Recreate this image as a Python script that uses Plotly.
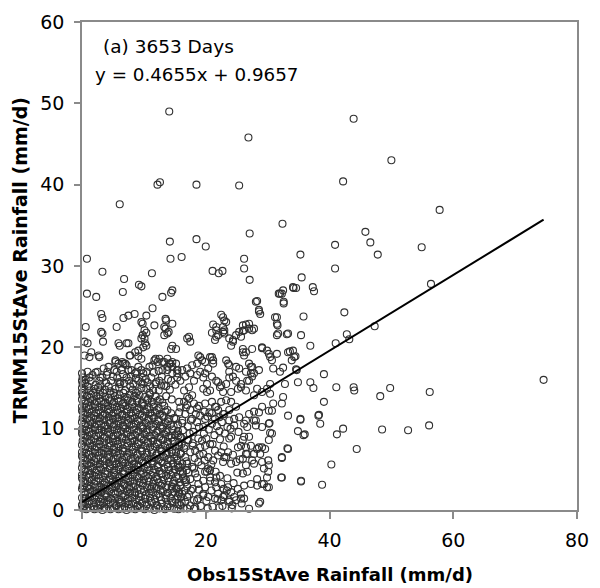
import plotly.graph_objects as go

# Daily 15-station average rainfall, observed gauge vs TRMM (mm/d)
# Sparse high-intensity days
outlier_days = [
    (14.1, 49.0), (26.9, 45.8), (43.9, 48.1), (50.0, 43.0), (12.2, 40.0), (12.6, 40.3),
    (18.5, 40.0), (25.4, 39.9), (42.2, 40.4), (6.1, 37.6), (57.8, 36.9), (32.4, 35.2),
    (27.1, 34.0), (45.8, 34.2), (46.6, 32.9), (14.2, 33.0), (18.5, 33.3), (20.0, 32.4),
    (40.9, 32.6), (54.9, 32.3), (47.8, 31.4), (35.3, 31.4), (0.8, 30.9), (14.3, 30.9),
    (16.1, 31.1), (26.2, 30.9), (26.2, 29.7), (40.9, 29.7), (27.1, 28.3), (35.5, 28.6),
    (3.3, 29.3), (6.8, 28.4), (9.2, 27.7), (9.6, 27.5), (11.3, 29.1), (21.1, 29.4),
    (22.1, 29.1), (22.7, 29.4), (34.6, 27.3), (37.3, 27.4), (37.5, 26.9), (56.4, 27.8),
    (0.8, 26.6), (2.3, 26.2), (6.6, 26.8), (13.0, 26.2), (14.6, 27.0), (14.4, 26.7),
    (32.0, 26.6), (34.2, 27.3), (31.8, 26.6), (32.5, 27.0), (32.6, 25.6), (32.6, 25.4),
    (74.6, 16.0),
]

# Heavy observed rainfall (obs > 29 mm/d)
wet_obs_days = [
    (42.4, 24.3), (35.8, 23.8), (47.3, 22.6), (42.8, 21.6), (43.2, 21.0), (35.4, 21.5),
    (36.9, 20.2), (41.0, 20.5), (34.5, 18.9), (34.6, 17.3), (39.1, 16.7), (34.9, 15.7),
    (36.9, 15.7), (37.4, 15.0), (41.1, 15.1), (43.9, 15.1), (44.0, 14.7), (48.2, 14.0),
    (49.8, 15.0), (56.2, 14.5), (39.1, 13.3), (38.3, 11.7), (38.5, 10.6), (35.3, 11.1),
    (34.9, 9.7), (36.0, 9.3), (41.2, 9.3), (42.2, 10.0), (48.5, 9.9), (52.7, 9.8),
    (56.1, 10.4), (44.4, 7.5), (40.3, 5.6), (35.4, 3.6), (38.8, 3.1),
    (31.5, 23.7), (31.6, 22.7), (31.5, 21.5), (33.1, 21.6), (31.5, 19.2), (33.6, 19.5),
    (34.3, 18.8), (30.4, 18.8), (30.7, 18.4), (30.9, 17.4), (32.0, 17.0), (32.5, 17.5),
    (34.7, 17.2), (30.4, 15.5), (29.9, 14.9), (32.8, 15.5), (30.4, 14.3), (32.5, 13.9),
    (32.3, 13.1), (30.9, 13.1), (30.2, 12.2), (30.7, 12.2), (33.3, 11.6), (35.3, 11.2),
    (38.2, 11.6), (30.3, 10.7), (30.4, 9.5), (30.2, 8.6), (35.8, 9.2), (33.2, 7.6),
    (32.3, 6.4), (30.1, 6.1), (30.1, 4.7), (29.9, 4.0), (32.2, 4.0), (35.4, 3.5),
    (29.9, 2.8),
]

# Days with TRMM between about 17 and 26 mm/d
upper_band_days = [
    (28.3, 25.7), (28.6, 24.4), (22.5, 24.0), (23.0, 23.3), (21.2, 22.8), (21.7, 22.1),
    (22.8, 21.9), (26.5, 22.8), (27.0, 22.3), (27.5, 22.1), (26.0, 22.0), (11.4, 24.8),
    (3.1, 24.1), (3.3, 23.6), (6.7, 23.6), (7.5, 23.9), (8.5, 24.1), (10.4, 23.9),
    (13.5, 23.5), (14.6, 22.9), (0.6, 22.5), (3.1, 21.9), (5.6, 22.5), (9.8, 22.9),
    (10.1, 22.1), (10.4, 21.8), (13.5, 22.3), (14.0, 21.9), (9.6, 23.1), (11.7, 22.7),
    (13.3, 22.5), (13.6, 23.3), (0.4, 20.7), (0.9, 20.5), (1.5, 19.4), (1.2, 18.8),
    (0.4, 19.0), (2.8, 18.8), (3.4, 20.7), (5.9, 20.5), (7.2, 20.5), (5.4, 18.4),
    (6.5, 18.2), (7.0, 18.0), (7.8, 19.0), (8.6, 19.4), (9.1, 19.6), (9.6, 21.1),
    (10.2, 20.5), (9.9, 20.0), (14.4, 19.8), (11.7, 18.4), (12.5, 18.6), (13.3, 18.2),
    (14.1, 18.0), (14.6, 17.6), (15.4, 17.2), (17.0, 21.1), (17.5, 20.7), (18.8, 19.0),
    (19.4, 18.4), (20.7, 18.8), (21.2, 18.4), (21.7, 22.5), (22.0, 21.5), (21.5, 20.9),
    (22.8, 23.7), (23.3, 23.1), (22.8, 22.5), (23.0, 22.1), (23.8, 21.1), (24.4, 20.7),
    (24.9, 21.5), (25.4, 21.9), (26.2, 22.1), (26.0, 22.7), (27.0, 22.9), (27.8, 22.3),
    (23.3, 18.4), (23.8, 17.8), (24.9, 17.6), (25.4, 17.4), (26.5, 17.0), (26.0, 19.4),
    (26.2, 19.0), (27.5, 19.8), (27.5, 17.6), (27.8, 16.8), (28.6, 17.2), (28.1, 25.6),
    (28.6, 24.6), (28.8, 24.1), (29.1, 20.0), (29.9, 19.6), (30.2, 19.2), (31.2, 23.7),
    (31.5, 22.9), (31.7, 21.7), (33.3, 21.7), (32.3, 26.6), (34.1, 27.4), (33.3, 19.4),
    (33.9, 18.4), (34.1, 19.6), (3.3, 21.7), (6.1, 20.2), (7.5, 20.5), (2.7, 19.0),
    (7.7, 19.0), (9.1, 18.9), (9.6, 18.6), (10.1, 21.1), (10.4, 20.2), (9.8, 21.5),
    (13.3, 21.5), (13.8, 21.7), (11.9, 18.6), (13.0, 18.2), (13.8, 18.6), (14.6, 18.2),
    (5.4, 18.2), (5.9, 18.0), (6.7, 18.0), (7.2, 17.8), (17.3, 21.3), (21.0, 21.8),
    (21.7, 21.3), (23.0, 21.7), (24.4, 20.9), (25.7, 21.3), (24.1, 20.2), (26.0, 19.8),
    (26.5, 19.4), (29.1, 19.9), (14.6, 20.2), (15.2, 19.8), (19.1, 18.8), (21.0, 18.8),
    (19.9, 18.2), (18.6, 18.0), (17.8, 17.8), (21.2, 18.0), (23.6, 18.0), (27.3, 17.6),
    (27.0, 18.0),
]

# Days with TRMM between about 14 and 18 mm/d
middle_band_days = [
    (0.1, 16.3), (0.1, 15.5), (0.6, 16.0), (2.8, 15.9), (3.3, 16.3), (4.1, 17.0),
    (5.2, 17.2), (5.7, 16.3), (6.2, 15.7), (8.0, 17.2), (8.6, 16.8), (9.1, 17.6),
    (9.9, 16.8), (9.6, 15.7), (11.2, 16.3), (12.0, 15.7), (12.8, 15.3), (13.8, 17.2),
    (14.6, 16.8), (14.4, 15.9), (15.4, 16.3), (15.4, 17.2), (16.5, 14.7), (17.3, 15.1),
    (18.1, 15.9), (18.6, 16.6), (19.1, 17.0), (19.6, 16.3), (20.2, 15.5), (20.7, 14.7),
    (21.7, 15.9), (22.3, 15.1), (22.8, 14.5), (23.3, 15.5), (23.8, 16.3), (24.9, 15.9),
    (25.7, 15.1), (26.5, 14.7), (27.0, 15.9), (27.3, 16.8), (5.6, 17.0), (6.4, 17.2),
    (7.5, 17.2), (7.2, 16.3), (6.1, 15.5), (0.0, 16.8), (0.9, 17.0), (1.7, 16.6),
    (2.5, 17.0), (3.0, 16.3), (3.5, 17.4), (4.3, 17.6), (4.0, 16.6), (8.8, 17.0),
    (9.6, 17.2), (9.8, 16.3), (10.9, 17.6), (11.4, 17.8), (12.2, 18.2), (9.1, 15.9),
    (9.8, 15.5), (10.6, 15.7), (11.9, 15.5), (12.5, 15.9), (13.3, 15.3), (13.0, 17.2),
    (13.8, 17.6), (14.3, 18.0), (5.9, 15.7), (15.2, 18.0), (15.4, 16.8), (16.7, 16.4),
    (17.5, 16.8), (17.0, 17.4), (16.2, 17.2), (19.9, 16.8), (20.4, 17.4), (21.0, 16.4),
    (19.6, 14.9), (20.2, 14.5), (17.0, 13.9), (17.8, 14.1), (22.0, 15.7), (22.5, 15.3),
    (23.8, 17.0), (24.4, 16.4), (24.1, 14.5), (25.2, 14.9), (25.7, 15.5), (26.7, 15.9),
    (27.5, 16.4), (28.3, 14.9), (29.1, 14.5), (27.8, 14.1),
    (0.5, 15.6), (1.4, 15.9), (2.2, 15.4), (3.0, 15.3), (3.9, 15.6), (4.7, 15.9),
    (5.0, 16.4), (6.8, 15.6), (7.6, 15.9), (8.3, 15.5), (8.7, 16.2), (10.3, 16.1),
    (11.0, 15.2), (11.6, 16.9), (12.9, 16.4), (13.9, 16.1), (1.2, 16.3), (2.2, 16.9),
    (6.6, 16.7), (7.9, 16.4), (10.4, 17.0), (12.4, 17.1), (13.6, 15.2), (14.2, 14.8),
    (15.1, 15.4), (15.9, 15.9),
]

# Moderate days, observed 15-33 mm/d
moderate_days = [
    (15.7, 13.3), (16.5, 13.3), (17.3, 13.7), (18.1, 13.1), (18.6, 12.5), (17.5, 12.3),
    (16.7, 11.8), (15.7, 12.0), (15.2, 11.2), (16.2, 11.0), (17.8, 11.2), (19.1, 11.6),
    (19.9, 13.1), (21.0, 13.3), (21.5, 12.7), (22.0, 12.3), (22.5, 13.3), (23.3, 13.5),
    (24.1, 13.3), (23.8, 12.3), (23.0, 11.8), (21.5, 11.2), (19.9, 11.2), (27.8, 12.1),
    (28.1, 11.0), (26.5, 11.0), (24.6, 11.2), (21.7, 12.7), (22.8, 11.8), (23.8, 11.0),
    (24.9, 12.7), (25.4, 11.4), (26.2, 10.6), (27.0, 11.8), (27.8, 11.0), (28.6, 12.0),
    (29.1, 12.7), (30.2, 10.6), (30.7, 9.4), (29.6, 7.5), (28.6, 7.7), (29.1, 5.9),
    (30.2, 5.5), (27.0, 9.0), (26.0, 8.6), (25.2, 7.7), (24.1, 9.0), (23.3, 6.5),
    (22.8, 5.9), (24.9, 5.9), (26.5, 6.9), (27.5, 6.1), (32.3, 6.5), (33.3, 7.5),
    (32.3, 4.0), (26.7, 10.2), (28.1, 10.4), (29.1, 10.2), (26.2, 9.0), (24.6, 10.4),
    (23.8, 8.8), (25.7, 7.9), (26.5, 7.7), (27.3, 7.9), (28.3, 7.5), (29.1, 7.7),
    (28.8, 6.9), (27.8, 6.9), (26.7, 6.9), (26.0, 6.3), (24.1, 5.7), (26.5, 5.5),
    (27.8, 5.7), (29.4, 5.1), (26.7, 4.7), (26.0, 4.5), (28.3, 3.8), (27.3, 3.2),
    (26.2, 3.0), (28.3, 3.0), (29.4, 3.2), (28.8, 1.0), (27.0, 0.15), (25.7, 1.4),
    (24.6, 1.6), (24.1, 2.2), (23.6, 2.8), (22.5, 3.2), (21.5, 3.4), (20.7, 4.0),
    (19.9, 4.7), (20.4, 5.1), (19.6, 3.6), (18.8, 3.2), (19.9, 2.8), (20.9, 2.4),
    (22.0, 2.0), (23.0, 1.8), (23.8, 1.2), (22.5, 1.2), (21.5, 1.4), (20.4, 1.6),
    (19.6, 1.8), (18.8, 1.4), (18.1, 1.2), (18.3, 0.3), (17.5, 0.55), (16.7, 1.0),
    (17.0, 1.6), (16.2, 2.0), (15.7, 2.2), (15.2, 2.6), (15.9, 3.0), (16.7, 3.4),
    (17.5, 3.8), (18.3, 4.5), (17.8, 5.3), (17.0, 5.7), (16.2, 5.7), (15.4, 6.1),
    (15.2, 7.1), (15.9, 6.9), (16.7, 6.5), (17.5, 7.1), (18.3, 7.3), (19.1, 7.7),
    (19.9, 7.9), (20.7, 8.1), (19.6, 6.9), (20.4, 6.5), (21.2, 6.1), (22.0, 6.7),
    (22.5, 7.1), (23.0, 6.5), (14.9, 0.15), (18.1, 0.15), (18.6, 1.2), (19.6, 2.0),
    (20.7, 3.6), (21.7, 2.8), (22.8, 1.6), (23.8, 1.0), (24.9, 1.2), (25.7, 2.0),
    (26.2, 1.4), (28.6, 0.8), (29.1, 3.2), (30.2, 2.8), (20.2, 4.7), (20.7, 4.9),
    (21.7, 4.0), (15.5, 10.5), (16.3, 9.8), (17.1, 10.3), (18.0, 9.6), (18.9, 10.2),
    (19.7, 9.4), (16.0, 8.9), (17.0, 8.6), (17.9, 8.2), (18.8, 8.8), (20.5, 9.9),
    (21.4, 9.2), (22.3, 8.7), (21.0, 10.6), (16.8, 12.6), (18.4, 11.8), (20.6, 12.0),
    (15.6, 9.2), (17.4, 9.4), (19.4, 8.5),
    (16.1, 0.9), (17.3, 1.9), (18.9, 2.5), (19.2, 0.5), (20.1, 1.1), (21.1, 0.4),
    (21.9, 1.3), (22.7, 0.5), (23.4, 2.4), (24.3, 0.6), (25.2, 2.6), (16.4, 3.9),
    (17.9, 2.6), (18.6, 4.0), (19.3, 5.5), (20.9, 5.6), (21.6, 4.7), (22.3, 4.2),
    (22.9, 2.6), (23.5, 3.9), (24.5, 3.3), (25.1, 4.6), (16.3, 4.7), (17.2, 4.6),
    (18.8, 5.9), (18.2, 6.4), (19.8, 6.1), (21.5, 7.3), (22.9, 7.8), (23.6, 7.1),
    (24.4, 6.8), (25.5, 6.2), (16.5, 7.6), (17.9, 7.9), (19.0, 6.8), (20.1, 8.8),
    (21.1, 8.1), (22.2, 9.7), (23.1, 9.4), (24.0, 10.0), (25.3, 9.6), (16.2, 10.7),
    (17.6, 11.0), (18.6, 10.8), (19.6, 10.2), (20.3, 11.5), (21.8, 10.3), (22.6, 10.8),
    (23.5, 10.2), (15.9, 12.6), (17.0, 12.9), (18.9, 12.8), (19.8, 12.1), (21.0, 11.9),
    (22.2, 11.4), (16.1, 8.1), (15.8, 5.3), (16.9, 6.0), (18.1, 5.1), (17.6, 2.4),
    (20.3, 0.2), (22.2, 0.3), (24.2, 0.2), (25.8, 0.8),
]

# Light-rain core, observed 0-15 mm/d and TRMM 0-15 mm/d
light_days = [
    (0.1, 0.2), (0.7, 0.1), (1.3, 0.3), (2.0, 0.1), (2.6, 0.2), (3.3, 0.0), (3.9, 0.2), (4.6, 0.1),
    (5.2, 0.3), (5.9, 0.1), (6.5, 0.2), (7.2, 0.0), (7.9, 0.2), (8.6, 0.1), (9.4, 0.3), (10.1, 0.1),
    (10.9, 0.2), (11.7, 0.0), (12.5, 0.2), (13.4, 0.1), (14.2, 0.3), (15.6, 0.1), (16.4, 0.2),
    (0.2, 0.9), (0.9, 0.7), (1.6, 0.9), (2.3, 0.8), (3.0, 0.6), (3.6, 0.9), (4.3, 0.7), (5.0, 0.9),
    (5.6, 0.6), (6.3, 0.8), (7.0, 0.9), (7.6, 0.7), (8.3, 0.8), (9.0, 0.6), (9.7, 0.9), (10.5, 0.7),
    (11.3, 0.9), (12.1, 0.6), (12.9, 0.8), (13.8, 0.7), (14.6, 0.9), (15.4, 0.7),
    (0.0, 1.5), (0.6, 1.4), (1.3, 1.6), (2.0, 1.4), (2.7, 1.5), (3.4, 1.3), (4.0, 1.6), (4.7, 1.4),
    (5.4, 1.5), (6.0, 1.3), (6.7, 1.6), (7.4, 1.4), (8.1, 1.5), (8.8, 1.3), (9.5, 1.6), (10.2, 1.4),
    (11.0, 1.5), (11.8, 1.3), (12.6, 1.6), (13.5, 1.4), (14.3, 1.5), (15.1, 1.3), (16.0, 1.6),
    (0.3, 2.2), (1.0, 2.1), (1.7, 2.3), (2.4, 2.1), (3.1, 2.2), (3.7, 2.0), (4.4, 2.3), (5.1, 2.1),
    (5.8, 2.2), (6.5, 2.0), (7.2, 2.3), (7.8, 2.1), (8.5, 2.2), (9.2, 2.0), (10.0, 2.3), (10.8, 2.1),
    (11.5, 2.2), (12.3, 2.0), (13.1, 2.3), (13.9, 2.1), (14.8, 2.2), (15.7, 2.0),
    (0.1, 2.9), (0.8, 2.8), (1.4, 3.0), (2.1, 2.8), (2.8, 2.9), (3.5, 2.7), (4.2, 3.0), (4.9, 2.8),
    (5.5, 2.9), (6.2, 2.7), (6.9, 3.0), (7.6, 2.8), (8.3, 2.9), (9.0, 2.7), (9.8, 3.0), (10.5, 2.8),
    (11.3, 2.9), (12.0, 2.7), (12.8, 3.0), (13.6, 2.8), (14.5, 2.9), (15.3, 2.7), (17.0, 2.9),
    (0.2, 3.6), (0.9, 3.5), (1.6, 3.7), (2.3, 3.5), (3.0, 3.6), (3.7, 3.4), (4.4, 3.7), (5.0, 3.5),
    (5.7, 3.6), (6.4, 3.4), (7.1, 3.7), (7.8, 3.5), (8.5, 3.6), (9.3, 3.4), (10.0, 3.7), (10.8, 3.5),
    (11.6, 3.6), (12.4, 3.4), (13.2, 3.7), (14.0, 3.5), (14.9, 3.6), (15.8, 3.4),
    (0.0, 4.3), (0.7, 4.2), (1.3, 4.4), (2.0, 4.2), (2.7, 4.3), (3.4, 4.1), (4.1, 4.4), (4.8, 4.2),
    (5.4, 4.3), (6.1, 4.1), (6.8, 4.4), (7.5, 4.2), (8.2, 4.3), (8.9, 4.1), (9.6, 4.4), (10.4, 4.2),
    (11.2, 4.3), (12.0, 4.1), (12.8, 4.4), (13.6, 4.2), (14.4, 4.3), (15.2, 4.1), (16.3, 4.4),
    (0.3, 5.0), (1.0, 4.9), (1.7, 5.1), (2.4, 4.9), (3.1, 5.0), (3.8, 4.8), (4.5, 5.1), (5.2, 4.9),
    (5.9, 5.0), (6.6, 4.8), (7.3, 5.1), (8.0, 4.9), (8.7, 5.0), (9.4, 4.8), (10.1, 5.1), (10.9, 4.9),
    (11.7, 5.0), (12.5, 4.8), (13.3, 5.1), (14.1, 4.9), (15.0, 5.0), (15.9, 4.8),
    (0.1, 5.7), (0.8, 5.6), (1.5, 5.8), (2.2, 5.6), (2.9, 5.7), (3.6, 5.5), (4.3, 5.8), (4.9, 5.6),
    (5.6, 5.7), (6.3, 5.5), (7.0, 5.8), (7.7, 5.6), (8.4, 5.7), (9.1, 5.5), (9.9, 5.8), (10.6, 5.6),
    (11.4, 5.7), (12.2, 5.5), (13.0, 5.8), (13.8, 5.6), (14.7, 5.7), (15.5, 5.5),
    (0.2, 6.4), (0.9, 6.3), (1.6, 6.5), (2.3, 6.3), (3.0, 6.4), (3.7, 6.2), (4.4, 6.5), (5.1, 6.3),
    (5.8, 6.4), (6.5, 6.2), (7.2, 6.5), (7.9, 6.3), (8.6, 6.4), (9.3, 6.2), (10.1, 6.5), (10.8, 6.3),
    (11.6, 6.4), (12.4, 6.2), (13.2, 6.5), (14.0, 6.3), (14.9, 6.4),
    (0.0, 7.1), (0.7, 7.0), (1.4, 7.2), (2.1, 7.0), (2.8, 7.1), (3.5, 6.9), (4.2, 7.2), (4.9, 7.0),
    (5.5, 7.1), (6.2, 6.9), (6.9, 7.2), (7.6, 7.0), (8.3, 7.1), (9.0, 6.9), (9.7, 7.2), (10.5, 7.0),
    (11.3, 7.1), (12.1, 6.9), (12.9, 7.2), (13.7, 7.0), (14.5, 7.1), (16.0, 7.0),
    (0.3, 7.8), (1.0, 7.7), (1.7, 7.9), (2.4, 7.7), (3.1, 7.8), (3.8, 7.6), (4.5, 7.9), (5.2, 7.7),
    (5.9, 7.8), (6.6, 7.6), (7.3, 7.9), (8.0, 7.7), (8.7, 7.8), (9.5, 7.6), (10.2, 7.9), (11.0, 7.7),
    (11.8, 7.8), (12.6, 7.6), (13.4, 7.9), (14.2, 7.7), (15.1, 7.8), (16.6, 7.9),
    (0.1, 8.5), (0.8, 8.4), (1.5, 8.6), (2.2, 8.4), (2.9, 8.5), (3.6, 8.3), (4.3, 8.6), (5.0, 8.4),
    (5.7, 8.5), (6.4, 8.3), (7.1, 8.6), (7.8, 8.4), (8.5, 8.5), (9.2, 8.3), (10.0, 8.6), (10.7, 8.4),
    (11.5, 8.5), (12.3, 8.3), (13.1, 8.6), (13.9, 8.4), (14.8, 8.5), (15.6, 8.3), (17.2, 8.6),
    (0.2, 9.2), (0.9, 9.1), (1.6, 9.3), (2.3, 9.1), (3.0, 9.2), (3.7, 9.0), (4.4, 9.3), (5.1, 9.1),
    (5.8, 9.2), (6.5, 9.0), (7.2, 9.3), (7.9, 9.1), (8.6, 9.2), (9.4, 9.0), (10.1, 9.3), (10.9, 9.1),
    (11.7, 9.2), (12.5, 9.0), (13.3, 9.3), (14.1, 9.1), (15.0, 9.2), (15.9, 9.0),
    (0.0, 9.9), (0.7, 9.8), (1.4, 10.0), (2.1, 9.8), (2.8, 9.9), (3.5, 9.7), (4.2, 10.0), (4.9, 9.8),
    (5.6, 9.9), (6.3, 9.7), (7.0, 10.0), (7.7, 9.8), (8.4, 9.9), (9.1, 9.7), (9.9, 10.0), (10.6, 9.8),
    (11.4, 9.9), (12.2, 9.7), (13.0, 10.0), (13.8, 9.8), (14.6, 9.9), (15.5, 9.7),
    (0.3, 10.6), (1.0, 10.5), (1.7, 10.7), (2.4, 10.5), (3.1, 10.6), (3.8, 10.4), (4.5, 10.7),
    (5.2, 10.5), (5.9, 10.6), (6.6, 10.4), (7.3, 10.7), (8.0, 10.5), (8.7, 10.6), (9.5, 10.4),
    (10.3, 10.7), (11.1, 10.5), (11.9, 10.6), (12.7, 10.4), (13.5, 10.7), (14.3, 10.5),
    (0.1, 11.3), (0.8, 11.2), (1.5, 11.4), (2.2, 11.2), (2.9, 11.3), (3.6, 11.1), (4.3, 11.4),
    (5.0, 11.2), (5.7, 11.3), (6.4, 11.1), (7.1, 11.4), (7.8, 11.2), (8.5, 11.3), (9.3, 11.1),
    (10.0, 11.4), (10.8, 11.2), (11.6, 11.3), (12.4, 11.1), (13.2, 11.4), (14.0, 11.2), (14.9, 11.3),
    (0.2, 12.0), (0.9, 11.9), (1.6, 12.1), (2.3, 11.9), (3.0, 12.0), (3.7, 11.8), (4.4, 12.1),
    (5.1, 11.9), (5.8, 12.0), (6.5, 11.8), (7.2, 12.1), (7.9, 11.9), (8.7, 12.0), (9.4, 11.8),
    (10.2, 12.1), (11.0, 11.9), (11.8, 12.0), (12.6, 11.8), (13.5, 12.1), (14.4, 11.9),
    (0.0, 12.7), (0.7, 12.6), (1.4, 12.8), (2.1, 12.6), (2.8, 12.7), (3.5, 12.5), (4.2, 12.8),
    (4.9, 12.6), (5.6, 12.7), (6.3, 12.5), (7.0, 12.8), (7.7, 12.6), (8.5, 12.7), (9.2, 12.5),
    (10.0, 12.8), (10.8, 12.6), (11.6, 12.7), (12.4, 12.5), (13.3, 12.8),
    (0.3, 13.4), (1.0, 13.3), (1.7, 13.5), (2.4, 13.3), (3.1, 13.4), (3.8, 13.2), (4.5, 13.5),
    (5.2, 13.3), (5.9, 13.4), (6.7, 13.2), (7.4, 13.5), (8.1, 13.3), (8.9, 13.4), (9.7, 13.2),
    (10.5, 13.5), (11.3, 13.3), (12.2, 13.4), (13.0, 13.2),
    (0.1, 14.1), (0.8, 14.0), (1.5, 14.2), (2.3, 14.0), (3.0, 14.1), (3.8, 13.9), (4.6, 14.2),
    (5.3, 14.0), (6.1, 14.1), (6.9, 13.9), (7.7, 14.2), (8.5, 14.0), (9.3, 14.1), (10.2, 13.9),
    (11.0, 14.2), (11.9, 14.0),
    (0.4, 14.8), (1.2, 14.7), (2.0, 14.9), (2.9, 14.7), (3.7, 14.8), (4.6, 14.6), (5.4, 14.9),
    (7.0, 14.7), (8.2, 14.8), (9.0, 14.6), (10.4, 14.9), (11.5, 14.7),
]

# Further light-rain days filling the same core
light_days_more = [
    (0.4, 0.5), (1.1, 1.1), (1.9, 0.4), (2.9, 1.0), (3.6, 0.3), (4.2, 1.2), (5.5, 0.5), (6.1, 1.0),
    (6.9, 0.4), (7.5, 1.1), (8.9, 0.4), (9.3, 1.2), (10.4, 0.5), (11.1, 1.1), (12.0, 0.3), (12.8, 1.2),
    (13.8, 0.4), (14.6, 1.1), (15.9, 0.6), (17.0, 0.2),
    (0.5, 1.9), (1.3, 2.6), (2.2, 1.8), (3.1, 2.5), (3.9, 1.8), (4.8, 2.6), (5.4, 1.9), (6.3, 2.5),
    (7.0, 1.8), (7.7, 2.6), (8.6, 1.8), (9.5, 2.5), (10.3, 1.8), (11.1, 2.6), (12.0, 1.8), (12.7, 2.5),
    (13.6, 1.8), (14.5, 2.6), (15.5, 1.7), (16.6, 2.4),
    (0.4, 3.3), (1.2, 4.0), (2.0, 3.2), (2.7, 3.9), (3.5, 3.1), (4.6, 3.9), (5.3, 3.2), (6.0, 3.9),
    (6.8, 3.2), (7.5, 3.9), (8.3, 3.2), (9.2, 3.9), (9.9, 3.3), (10.7, 3.9), (11.5, 3.2), (12.2, 3.8),
    (13.0, 3.2), (13.9, 3.9), (14.7, 3.2), (15.6, 3.9), (16.8, 3.7),
    (0.5, 4.7), (1.4, 5.4), (2.2, 4.6), (2.9, 5.3), (3.7, 4.5), (4.5, 5.4), (5.2, 4.6), (6.0, 5.3),
    (6.7, 4.5), (7.6, 5.4), (8.4, 4.6), (9.1, 5.3), (9.9, 4.5), (10.6, 5.3), (11.5, 4.6), (12.3, 5.3),
    (13.0, 4.5), (13.9, 5.3), (14.7, 4.6), (15.6, 5.2), (16.9, 4.9),
    (0.4, 6.1), (1.2, 6.8), (2.0, 6.0), (2.7, 6.7), (3.4, 6.0), (4.2, 6.8), (5.0, 6.0), (5.7, 6.7),
    (6.5, 5.9), (7.4, 6.8), (8.1, 6.0), (8.9, 6.7), (9.7, 6.0), (10.4, 6.8), (11.3, 6.0), (12.0, 6.7),
    (12.8, 6.0), (13.6, 6.8), (14.4, 6.1), (15.3, 6.6),
    (0.5, 7.5), (1.3, 8.2), (2.1, 7.4), (2.8, 8.1), (3.5, 7.3), (4.4, 8.2), (5.1, 7.4), (5.8, 8.1),
    (6.6, 7.3), (7.4, 8.2), (8.2, 7.4), (9.0, 8.1), (9.7, 7.3), (10.6, 8.2), (11.4, 7.4), (12.1, 8.1),
    (12.9, 7.3), (13.8, 8.1), (14.6, 7.4), (15.7, 8.0),
    (0.4, 8.9), (1.2, 9.6), (2.0, 8.8), (2.7, 9.5), (3.5, 8.8), (4.2, 9.6), (5.0, 8.8), (5.7, 9.5),
    (6.5, 8.8), (7.3, 9.6), (8.1, 8.8), (8.8, 9.5), (9.6, 8.8), (10.4, 9.6), (11.2, 8.8), (12.0, 9.5),
    (12.8, 8.8), (13.6, 9.6), (14.5, 8.9), (15.4, 9.4),
    (0.5, 10.3), (1.3, 11.0), (2.1, 10.2), (2.8, 10.9), (3.6, 10.2), (4.4, 11.0), (5.1, 10.2),
    (5.9, 10.9), (6.7, 10.2), (7.5, 11.0), (8.3, 10.2), (9.0, 10.9), (9.8, 10.2), (10.7, 11.0),
    (11.5, 10.2), (12.3, 10.9), (13.1, 10.2), (13.9, 10.9), (14.8, 10.3),
    (0.4, 11.7), (1.2, 12.4), (2.0, 11.6), (2.7, 12.3), (3.4, 11.6), (4.2, 12.4), (4.9, 11.6),
    (5.7, 12.3), (6.5, 11.6), (7.3, 12.4), (8.1, 11.6), (8.9, 12.3), (9.7, 11.6), (10.5, 12.4),
    (11.3, 11.6), (12.1, 12.3), (13.0, 11.6), (13.8, 12.3),
    (0.5, 13.1), (1.3, 13.8), (2.1, 13.0), (2.8, 13.7), (3.5, 13.0), (4.3, 13.8), (5.0, 13.0),
    (5.8, 13.7), (6.5, 13.0), (7.3, 13.8), (8.1, 13.0), (8.9, 13.7), (9.8, 13.0), (10.7, 13.7),
    (11.6, 13.0), (12.6, 13.6),
    (0.0, 14.4), (0.9, 15.2), (1.8, 14.4), (2.6, 15.1), (3.4, 14.4), (4.3, 15.2), (5.1, 14.4),
    (6.0, 15.1), (6.7, 14.4), (7.8, 15.2), (8.7, 14.4), (9.6, 15.0), (10.9, 14.4), (12.4, 14.7),
    (13.6, 14.0), (14.5, 13.6),
    (0.0, 0.6), (0.0, 2.6), (0.0, 3.9), (0.0, 5.2), (0.0, 6.6), (0.0, 8.0), (0.0, 9.4),
    (0.0, 10.8), (0.0, 12.2), (0.0, 13.6), (0.0, 15.0), (0.0, 15.9),
]

# Least-squares fit reported on the chart
fit_slope = 0.4655
fit_intercept = 0.9657
n_days = 3653

x_ticks = [0, 20, 40, 60, 80]
y_ticks = [0, 10, 20, 30, 40, 50, 60]

all_days = (light_days + light_days_more + moderate_days + middle_band_days
            + upper_band_days + wet_obs_days + outlier_days)
obs_mm = [p[0] for p in all_days]
trmm_mm = [p[1] for p in all_days]

x_fit = [0.0, max(obs_mm)]
y_fit = [fit_slope * v + fit_intercept for v in x_fit]

FONT = "DejaVu Sans"
AXIS_GREY = "#8a8a8a"

fig = go.Figure()
fig.add_trace(go.Scatter(
    x=obs_mm, y=trmm_mm, mode="markers", cliponaxis=False,
    marker=dict(symbol="circle-open", size=7, color="#303030", line=dict(width=1.1)),
    showlegend=False, hoverinfo="x+y",
))
fig.add_trace(go.Scatter(
    x=x_fit, y=y_fit, mode="lines", line=dict(color="black", width=2),
    showlegend=False, hoverinfo="skip",
))

fig.update_layout(
    width=600, height=588,
    margin=dict(l=82, r=11, t=22, b=78),
    paper_bgcolor="white", plot_bgcolor="white",
    font=dict(family=FONT, color="black", size=19),
    showlegend=False,
    annotations=[
        dict(text=f"(a) {n_days} Days", xref="x", yref="y", x=3.1, y=57.0,
             xanchor="left", yanchor="middle", showarrow=False,
             font=dict(family=FONT, size=18.5, color="black")),
        dict(text=f"y = {fit_slope}x + {fit_intercept}", xref="x", yref="y", x=1.7, y=53.5,
             xanchor="left", yanchor="middle", showarrow=False,
             font=dict(family=FONT, size=18.3, color="black")),
        dict(text="<b>Obs15StAve Rainfall (mm/d)</b>", xref="paper", yref="paper",
             x=0.5, y=-0.132, xanchor="center", yanchor="middle", showarrow=False,
             font=dict(family=FONT, size=18, color="black")),
        dict(text="<b>TRMM15StAve Rainfall (mm/d)</b>", xref="paper", yref="paper",
             x=-0.126, y=0.511, xanchor="center", yanchor="middle", showarrow=False,
             textangle=-90, font=dict(family=FONT, size=19, color="black")),
    ],
)
fig.update_xaxes(
    range=[0, 80], tickvals=x_ticks, ticks="outside", ticklen=7, tickwidth=1.5,
    tickcolor=AXIS_GREY, showline=True, linecolor=AXIS_GREY, linewidth=1.5, mirror=True,
    showgrid=False, zeroline=False, ticklabelstandoff=5,
    tickfont=dict(family=FONT, size=19, color="black"),
)
fig.update_yaxes(
    range=[0, 60], tickvals=y_ticks, ticks="outside", ticklen=6, tickwidth=1.5,
    tickcolor=AXIS_GREY, showline=True, linecolor=AXIS_GREY, linewidth=1.5, mirror=True,
    showgrid=False, zeroline=False, ticklabelstandoff=6,
    tickfont=dict(family=FONT, size=19, color="black"),
)

fig.write_html("out.html")
